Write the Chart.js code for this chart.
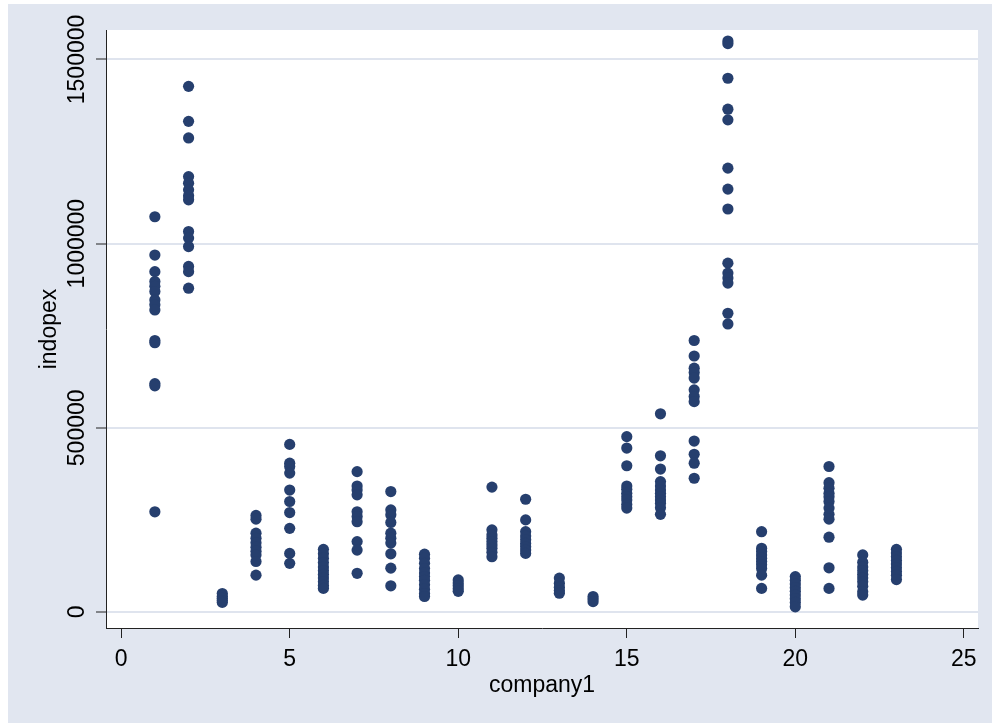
<!DOCTYPE html>
<html>
<head>
<meta charset="utf-8">
<title>indopex by company1</title>
<script src="https://cdn.jsdelivr.net/npm/chart.js@4/dist/chart.umd.min.js"></script>
<style>
    html, body { margin: 0; padding: 0; background: #fff; }
    canvas { display: block; }
</style>
</head>
<body>
<canvas id="scatterChart" width="992" height="723"></canvas>
<script>
// indopex values, one list per company
const co1 = [1073000, 969000, 924000, 897000, 884000, 870000, 847000, 834000, 820000, 737000, 731000, 620000, 614000, 272000];
const co2 = [1427000, 1332000, 1287000, 1182000, 1164000, 1146000, 1130000, 1119000, 1033000, 1015000, 992000, 938000, 924000, 879000];
const co3 = [50000, 43000, 37000, 31000, 26000];
const co4 = [262000, 252000, 214000, 200000, 188000, 176000, 165000, 155000, 137000, 100000];
const co5 = [455000, 404000, 395000, 377000, 331000, 300000, 270000, 227000, 159000, 132000];
const co6 = [170000, 158000, 146000, 134000, 122000, 112000, 102000, 92000, 82000, 72000, 64000];
const co7 = [381000, 342000, 331000, 318000, 272000, 259000, 245000, 191000, 168000, 105000];
const co8 = [327000, 277000, 264000, 243000, 214000, 200000, 187000, 158000, 119000, 71000];
const co9 = [157000, 146000, 132000, 118000, 106000, 96000, 86000, 74000, 62000, 50000, 42000];
const co10 = [87000, 79000, 71000, 63000, 56000];
const co11 = [339000, 223000, 209000, 200000, 191000, 182000, 173000, 162000, 150000];
const co12 = [306000, 250000, 218000, 206000, 196000, 186000, 177000, 168000, 159000];
const co13 = [92000, 78000, 67000, 58000, 51000];
const co14 = [42000, 35000, 28000];
const co15 = [476000, 445000, 397000, 342000, 333000, 322000, 313000, 304000, 292000, 282000];
const co16 = [538000, 424000, 388000, 354000, 342000, 331000, 322000, 313000, 304000, 295000, 283000, 265000];
const co17 = [737000, 695000, 662000, 650000, 635000, 603000, 585000, 571000, 464000, 428000, 404000, 363000];
const co18 = [1550000, 1543000, 1449000, 1365000, 1336000, 1205000, 1148000, 1094000, 947000, 920000, 907000, 893000, 811000, 782000];
const co19 = [218000, 173000, 164000, 155000, 146000, 137000, 128000, 118000, 100000, 64000];
const co20 = [96000, 86000, 76000, 66000, 56000, 46000, 36000, 26000, 14000];
const co21 = [395000, 351000, 336000, 322000, 313000, 300000, 282000, 265000, 252000, 203000, 120000, 64000];
const co22 = [155000, 135000, 122000, 112000, 102000, 92000, 82000, 70000, 55000, 46000];
const co23 = [170000, 160000, 150000, 140000, 130000, 120000, 110000, 100000, 88000];

const companies = [co1, co2, co3, co4, co5, co6, co7, co8, co9, co10, co11, co12,
    co13, co14, co15, co16, co17, co18, co19, co20, co21, co22, co23];

const xTicks = [0, 5, 10, 15, 20, 25];
const yTicks = [0, 500000, 1000000, 1500000];

const colors = {
    marker: '#263f6e',
    outer: '#e1e6f0',
    grid: '#dfe4ee',
    axis: '#222222',
    text: '#000000'
};
const labelFont = { family: '"Liberation Sans", Arial, Helvetica, sans-serif', size: 23 };

// flatten into {x: company, y: indopex} points
const points = [];
companies.forEach((vals, i) => {
    vals.forEach(v => points.push({ x: i + 1, y: v }));
});

// stata-like backdrop: lavender outer region, white plot region
const backdrop = {
    id: 'backdrop',
    beforeDraw(chart) {
        const { ctx, width, height, chartArea } = chart;
        ctx.save();
        ctx.fillStyle = '#ffffff';
        ctx.fillRect(0, 0, width, height);
        ctx.fillStyle = colors.outer;
        ctx.fillRect(8, 4, width - 8, height - 4);
        ctx.fillStyle = '#ffffff';
        ctx.fillRect(chartArea.left, chartArea.top, chartArea.right - chartArea.left, chartArea.bottom - chartArea.top);
        ctx.restore();
    }
};

// y tick labels are vertical in the original
const verticalYLabels = {
    id: 'verticalYLabels',
    afterDraw(chart) {
        const { ctx } = chart;
        const scale = chart.scales.y;
        ctx.save();
        ctx.fillStyle = colors.text;
        ctx.font = `${labelFont.size}px ${labelFont.family}`;
        ctx.textAlign = 'center';
        ctx.textBaseline = 'middle';
        yTicks.forEach(v => {
            const py = scale.getPixelForValue(v);
            ctx.save();
            ctx.translate(78, py);
            ctx.rotate(-Math.PI / 2);
            ctx.fillText(String(v), 0, 0);
            ctx.restore();
        });
        ctx.restore();
    }
};

const ctx = document.getElementById('scatterChart').getContext('2d');
new Chart(ctx, {
    type: 'scatter',
    data: {
        datasets: [{
            label: 'indopex',
            data: points,
            backgroundColor: colors.marker,
            borderColor: colors.marker,
            borderWidth: 0,
            pointRadius: 5.6,
            pointHoverRadius: 5.6
        }]
    },
    options: {
        responsive: false,
        animation: false,
        layout: {
            padding: { left: 0, top: 30, right: 14, bottom: 0 }
        },
        plugins: {
            legend: { display: false },
            tooltip: { enabled: false }
        },
        scales: {
            x: {
                type: 'linear',
                min: -0.45,
                max: 25.42,
                afterFit: s => { s.height = 95; },
                afterBuildTicks: s => { s.ticks = xTicks.map(v => ({ value: v })); },
                ticks: {
                    stepSize: 5,
                    includeBounds: false,
                    padding: 8,
                    color: colors.text,
                    font: labelFont
                },
                grid: {
                    drawOnChartArea: false,
                    drawTicks: true,
                    tickLength: 10,
                    tickColor: colors.axis,
                    tickWidth: 1
                },
                border: { display: true, color: colors.axis, width: 1 },
                title: {
                    display: true,
                    text: 'company1',
                    color: colors.text,
                    font: labelFont,
                    padding: { top: 0, bottom: 24 }
                }
            },
            y: {
                type: 'linear',
                min: -43500,
                max: 1580000,
                afterFit: s => { s.width = 106; },
                afterBuildTicks: s => { s.ticks = yTicks.map(v => ({ value: v })); },
                ticks: {
                    display: false,
                    stepSize: 500000,
                    includeBounds: false
                },
                grid: {
                    color: colors.grid,
                    lineWidth: 2,
                    drawTicks: true,
                    tickLength: 10,
                    tickColor: colors.axis,
                    tickWidth: 1
                },
                border: { display: true, color: colors.axis, width: 1 },
                title: {
                    display: true,
                    text: 'indopex',
                    color: colors.text,
                    font: labelFont,
                    padding: { top: 36, bottom: 0 }
                }
            }
        }
    },
    plugins: [backdrop, verticalYLabels]
});
</script>
</body>
</html>
